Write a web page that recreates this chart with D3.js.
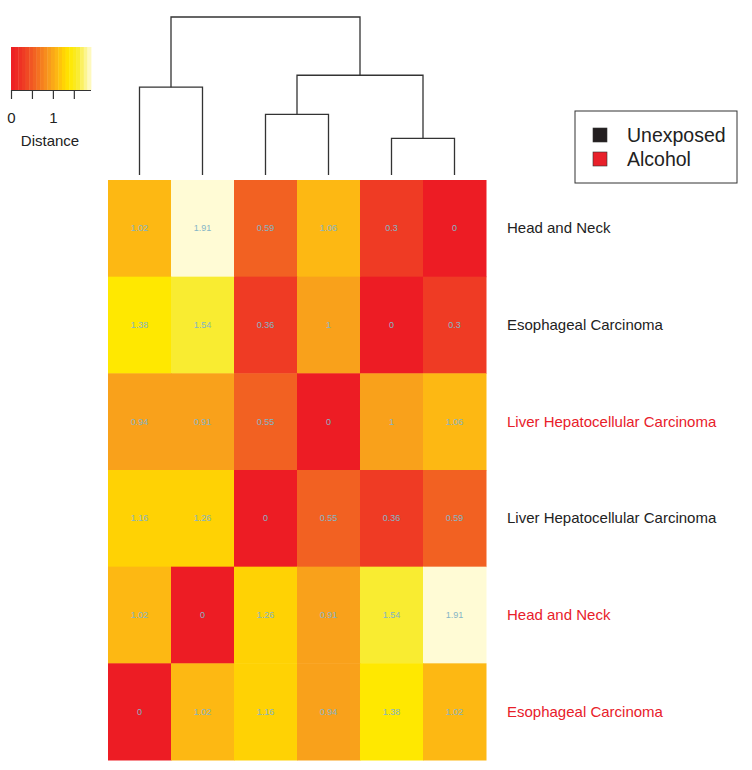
<!DOCTYPE html>
<html><head><meta charset="utf-8">
<script src="https://cdn.jsdelivr.net/npm/d3@7"></script>
<style>body{margin:0;background:#fff;}svg{display:block;font-family:"Liberation Sans",Arial,Helvetica,sans-serif;}</style>
</head><body><svg id="c" width="752" height="770"></svg>
<script>
// Data
const rowLabels = ["Head and Neck","Esophageal Carcinoma","Liver Hepatocellular Carcinoma","Liver Hepatocellular Carcinoma","Head and Neck","Esophageal Carcinoma"];
const rowGroups = ["Unexposed","Unexposed","Alcohol","Unexposed","Alcohol","Alcohol"];
const colIds = ["c0","c1","c2","c3","c4","c5"];
const values = [
  [1.02,1.91,0.59,1.06,0.3,0],
  [1.38,1.54,0.36,1,0,0.3],
  [0.94,0.91,0.55,0,1,1.06],
  [1.16,1.26,0,0.55,0.36,0.59],
  [1.02,0,1.26,0.91,1.54,1.91],
  [0,1.02,1.16,0.94,1.38,1.02]
];
const groups = ["Unexposed","Alcohol"];
const groupColors = ["#231F20","#E8202A"];
const colorStops = [0,0.3,0.36,0.55,0.59,0.91,1.0,1.02,1.06,1.16,1.26,1.38,1.54,1.91];
const colorValues = ["#ED1C24","#EF3B24","#EF3B24","#F26122","#F26122","#F9A11B","#F9A11B","#FDB813","#FDB813","#FFD204","#FFD204","#FFE800","#F9EC31","#FFFBD5"];
const keyTicks = [0,0.5,1,1.5];
const keyTickLabels = ["0","","1",""];
// dendrogram merges: [left, right, height]; leaves 0..5, internal nodes 6..
const merges = [[4,5,0.46],[2,3,0.76],[0,1,1.10],[7,6,1.25],[8,9,1.98]];

const svg = d3.select("#c");
const color = d3.scaleLinear().domain(colorStops).range(colorValues).clamp(true);

const x = d3.scaleBand().domain(colIds).range([108,486]);
const y = d3.scaleBand().domain(d3.range(rowLabels.length)).range([180,760]);

// cells
const cells = [];
values.forEach((r,i)=>r.forEach((v,j)=>cells.push({i,j,v})));
svg.append("g").selectAll("rect").data(cells).join("rect")
  .attr("x",d=>x(colIds[d.j])).attr("y",d=>y(d.i))
  .attr("width",x.bandwidth()+0.5).attr("height",y.bandwidth()+0.5)
  .attr("fill",d=>color(d.v));
svg.append("g").selectAll("text").data(cells).join("text")
  .attr("x",d=>x(colIds[d.j])+x.bandwidth()/2).attr("y",d=>y(d.i)+y.bandwidth()/2+3)
  .attr("text-anchor","middle").attr("font-size",9).attr("fill","#86B5C6")
  .text(d=>d.v);

// row labels
svg.append("g").selectAll("text").data(rowLabels).join("text")
  .attr("x",507).attr("y",(d,i)=>y(i)+y.bandwidth()/2+5)
  .attr("font-size",15).attr("fill",(d,i)=>rowGroups[i]==="Alcohol"?"#E8202A":"#222")
  .text(d=>d);

// dendrogram
const hy = d3.scaleLinear().domain([0,1.98]).range([175,17]);
const nodes = colIds.map((c,k)=>({x:x(c)+x.bandwidth()/2,h:0}));
const dg = svg.append("g").attr("fill","none").attr("stroke","#333").attr("stroke-width",1.3);
merges.forEach(([a,b,h])=>{
  const A=nodes[a],B=nodes[b];
  dg.append("path").attr("d",`M${A.x},${hy(A.h)}V${hy(h)}H${B.x}V${hy(B.h)}`);
  nodes.push({x:(A.x+B.x)/2,h});
});

// color key
const kx = d3.scaleLinear().domain([0,1.91]).range([11,91]);
const nStripes = 22;
const stripes = d3.range(nStripes).map(k=>({a:1.91*k/nStripes,b:1.91*(k+1)/nStripes}));
const keyColor = d3.scaleLinear().domain([0,0.3,0.55,0.95,1.1,1.25,1.4,1.6,1.91])
  .range(["#ED1C24","#EF3B24","#F26122","#F9A11B","#FDB813","#FFD204","#FFE800","#F9EC31","#FFFBD5"]);
svg.append("g").selectAll("rect").data(stripes).join("rect")
  .attr("x",d=>kx(d.a)).attr("y",47).attr("width",d=>kx(d.b)-kx(d.a)+0.4).attr("height",43)
  .attr("fill",d=>keyColor((d.a+d.b)/2));
const kAxis = d3.axisBottom(kx).tickValues(keyTicks).tickFormat((d,i)=>keyTickLabels[i]).tickSize(9).tickSizeOuter(0).tickPadding(13);
const ka = svg.append("g").attr("transform","translate(0,90)").call(kAxis);
ka.select(".domain").attr("stroke","#333").attr("d","M11,0.5H91");
ka.selectAll(".tick line").attr("stroke","#333").attr("stroke-width",1.2);
ka.selectAll(".tick text").attr("font-size",15).attr("fill","#222").attr("font-family","Liberation Sans,Arial,sans-serif");
svg.append("text").attr("x",50).attr("y",146).attr("text-anchor","middle").attr("font-size",15).attr("fill","#222").text("Distance");

// legend
svg.append("rect").attr("x",575).attr("y",111).attr("width",162).attr("height",72)
  .attr("fill","#fff").attr("stroke","#333").attr("stroke-width",1);
const lg = svg.append("g").selectAll("g").data(groups).join("g")
  .attr("transform",(d,i)=>`translate(593,${128+i*24})`);
lg.append("rect").attr("width",14).attr("height",14).attr("fill",(d,i)=>groupColors[i]).attr("stroke","#333").attr("stroke-width",0.6);
lg.append("text").attr("x",34).attr("y",14).attr("font-size",19.5).attr("fill","#222").text(d=>d);
</script></body></html>
